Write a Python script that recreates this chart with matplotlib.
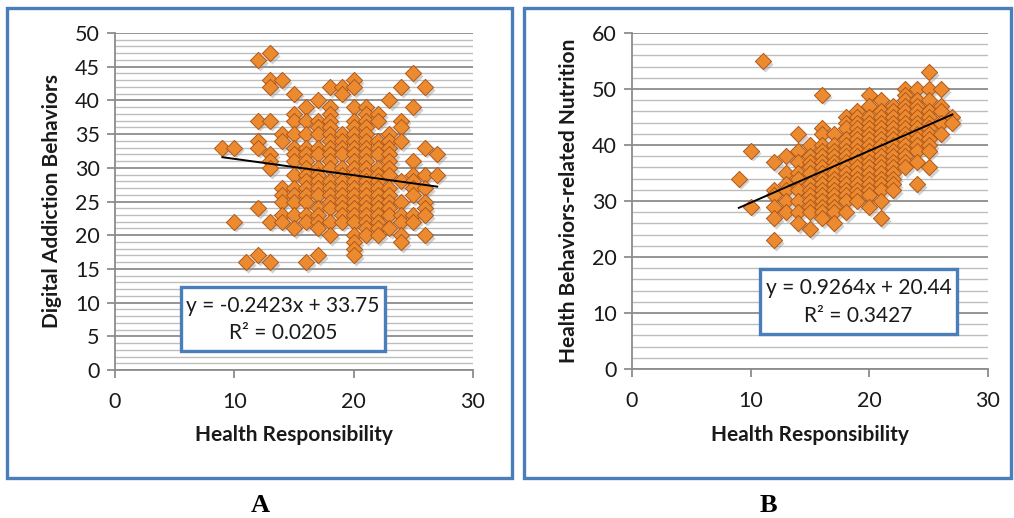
import matplotlib
matplotlib.use("Agg")
import matplotlib.pyplot as plt
from matplotlib.patches import Rectangle
from matplotlib.ticker import MultipleLocator
import matplotlib.transforms as mtransforms

plt.rcParams['font.family'] = ['Lato', 'DejaVu Sans']

# Panel A: Health Responsibility vs Digital Addiction Behaviors (values per x column)
a_hr = [9, 10, 11, 12, 13, 14, 15, 16, 17, 18, 19, 20, 21, 22, 23, 24, 25, 26, 27]
a_dab = [
    [33],
    [33, 22],
    [16],
    [46, 37, 34, 33, 24, 17],
    [47, 43, 42, 37, 32, 31, 30, 22, 16],
    [43, 35, 34, 27, 26, 25, 23, 22],
    [41, 38, 37, 35, 33, 32, 31, 29, 27, 26, 25, 23, 21],
    [39, 37, 35, 33, 32, 31, 30, 29, 28, 27, 26, 25, 23, 22, 16],
    [40, 37, 36, 35, 33, 32, 30, 29, 28, 27, 26, 24, 23, 22, 21, 17],
    [42, 39, 38, 37, 36, 35, 34, 33, 32, 31, 30, 28, 27, 26, 25, 24, 22, 20],
    [42, 41, 35, 34, 33, 32, 30, 29, 28, 27, 26, 25, 24, 23, 22],
    [43, 42, 39, 37, 36, 35, 34, 33, 32, 31, 30, 29, 28, 27, 26, 25, 24, 23, 22, 20, 19, 18, 17],
    [39, 38, 37, 36, 35, 34, 33, 32, 31, 30, 29, 28, 27, 26, 25, 24, 23, 22, 21, 20],
    [38, 37, 34, 33, 32, 30, 29, 28, 27, 26, 25, 24, 23, 22, 21, 20],
    [40, 35, 34, 33, 32, 31, 30, 29, 27, 26, 25, 24, 23, 21],
    [42, 37, 36, 34, 28, 25, 23, 22, 20, 19],
    [44, 39, 31, 29, 28, 27, 26, 23, 22],
    [42, 33, 29, 27, 25, 24, 23, 20],
    [32, 29],
]
a_slope, a_icpt, a_r2 = -0.2423, 33.75, 0.0205

# Panel B: Health Responsibility vs Health Behaviors-related Nutrition
b_hr = [9, 10, 11, 12, 13, 14, 15, 16, 17, 18, 19, 20, 21, 22, 23, 24, 25, 26, 27]
b_hbn = [
    [34],
    [39, 29],
    [55],
    [37, 32, 31, 29, 27, 23],
    [38, 35, 33, 32, 30, 28],
    [42, 39, 37, 35, 34, 32, 30, 28, 26],
    [40, 38, 37, 36, 35, 33, 32, 31, 30, 29, 28, 25],
    [49, 43, 42, 40, 39, 38, 37, 36, 35, 34, 33, 32, 31, 30, 29, 28, 27],
    [42, 40, 39, 38, 37, 36, 35, 34, 33, 32, 31, 30, 29, 28, 26],
    [45, 44, 43, 41, 40, 39, 38, 37, 36, 35, 34, 33, 32, 31, 30, 28],
    [46, 45, 44, 43, 42, 41, 40, 39, 38, 37, 36, 35, 34, 33, 32, 31, 30],
    [49, 47, 45, 44, 43, 42, 41, 40, 39, 38, 37, 36, 35, 34, 33, 32, 31, 29],
    [48, 46, 45, 44, 43, 42, 41, 40, 39, 38, 37, 36, 35, 34, 33, 32, 30, 27],
    [47, 46, 45, 44, 43, 42, 41, 40, 39, 38, 37, 36, 35, 34, 33, 32],
    [50, 49, 48, 47, 46, 45, 44, 43, 42, 41, 40, 39, 38, 37, 36],
    [50, 48, 47, 46, 45, 44, 43, 42, 41, 40, 39, 37, 33],
    [53, 50, 48, 46, 45, 44, 43, 42, 41, 40, 39, 36],
    [50, 47, 46, 44, 42],
    [45, 44],
]
b_slope, b_icpt, b_r2 = 0.9264, 20.44, 0.3427

W, H = 1014, 518
fig = plt.figure(figsize=(W / 100, H / 100), dpi=100)
ink = '#1a1a1a'


def px_rect(x0, y0, x1, y1):
    # pixel box (top-left origin) -> figure fraction [l, b, w, h]
    return [x0 / W, 1 - y1 / H, (x1 - x0) / W, (y1 - y0) / H]


def flatten(xs, cols):
    px, py = [], []
    for x, ys in zip(xs, cols):
        for y in ys:
            px.append(x)
            py.append(y)
    return px, py


def draw_panel(rect, xs, cols, slope, icpt, ymax, ymajor, yminor, ylabel, ylab_x):
    ax = fig.add_axes(px_rect(*rect))
    x, y = flatten(xs, cols)
    shadow = mtransforms.offset_copy(ax.transData, fig=fig, x=1.5, y=-2.0, units='points')
    ax.scatter(x, y, marker='D', s=68, color='#9a9a9a', alpha=0.45, lw=0,
               transform=shadow, zorder=3, clip_on=False)
    ax.scatter(x, y, marker='D', s=68, facecolor='#ec8a2f', edgecolor='#b0581a',
               lw=0.7, zorder=4, clip_on=False)
    lx = [min(xs), max(xs)]
    ax.plot(lx, [slope * v + icpt for v in lx], color='black', lw=1.4, zorder=5)

    ax.set_xlim(0, 30)
    ax.set_ylim(0, ymax)
    ax.xaxis.set_major_locator(MultipleLocator(10))
    ax.yaxis.set_major_locator(MultipleLocator(ymajor))
    ax.yaxis.set_minor_locator(MultipleLocator(yminor))
    ax.grid(which='major', axis='y', color='#8c8c8c', lw=1.3, zorder=1)
    ax.grid(which='minor', axis='y', color='#bdbdbd', lw=1.0, zorder=1)
    ax.set_axisbelow(True)
    for s in ['top', 'right']:
        ax.spines[s].set_visible(False)
    for s in ['left', 'bottom']:
        ax.spines[s].set_color('#8c8c8c')
        ax.spines[s].set_linewidth(1.3)
    ax.tick_params(which='major', length=6, width=1.3, color='#8c8c8c',
                   labelsize=15.5, labelcolor=ink, pad=5)
    ax.tick_params(axis='x', pad=10)
    ax.tick_params(which='minor', length=0)
    ax.set_xlabel('Health Responsibility', fontsize=15, fontweight='bold',
                  color=ink, va='center')
    ax.set_ylabel(ylabel, fontsize=15, fontweight='bold', color=ink, va='center')
    h = rect[3] - rect[1]
    w = rect[2] - rect[0]
    ax.xaxis.set_label_coords(0.5, -(435 - rect[3]) / h)
    ax.yaxis.set_label_coords((ylab_x - rect[0]) / w, 0.5)
    return ax


draw_panel((115, 33, 473, 370), a_hr, a_dab, a_slope, a_icpt, 50, 5, 1,
           'Digital Addiction Behaviors', 52)
draw_panel((632, 33, 988, 369), b_hr, b_hbn, b_slope, b_icpt, 60, 10, 2,
           'Health Behaviors-related Nutrition', 569)

blue = '#4a7ebb'
for (x0, y0, x1, y1) in [(7, 8, 512, 478), (524, 8, 1011, 478)]:
    l, b, w, h = px_rect(x0, y0, x1, y1)
    fig.patches.append(Rectangle((l, b), w, h, transform=fig.transFigure,
                                 fill=False, edgecolor=blue, lw=2.4))

eq_boxes = [((181, 287, 385, 351), a_slope, a_icpt, a_r2),
            ((760, 269, 957, 334), b_slope, b_icpt, b_r2)]
for (x0, y0, x1, y1), sl, ic, r2 in eq_boxes:
    l, b, w, h = px_rect(x0, y0, x1, y1)
    fig.patches.append(Rectangle((l, b), w, h, transform=fig.transFigure,
                                 facecolor='white', edgecolor=blue, lw=2.4, zorder=2))
    sign = '+' if ic >= 0 else '-'
    fig.text(l + w / 2, b + h * 0.70, f'y = {sl:.4f}x {sign} {abs(ic):.2f}',
             ha='center', va='center', fontsize=15, color=ink, zorder=3)
    fig.text(l + w / 2, b + h * 0.28, f'R² = {r2:.4f}',
             ha='center', va='center', fontsize=15, color=ink, zorder=3)

fig.text(260 / W, 1 - 505 / H, 'A', ha='center', va='center', fontsize=19,
         fontweight='bold', family='Liberation Serif')
fig.text(768 / W, 1 - 505 / H, 'B', ha='center', va='center', fontsize=19,
         fontweight='bold', family='Liberation Serif')

fig.savefig('out.png', dpi=100)
